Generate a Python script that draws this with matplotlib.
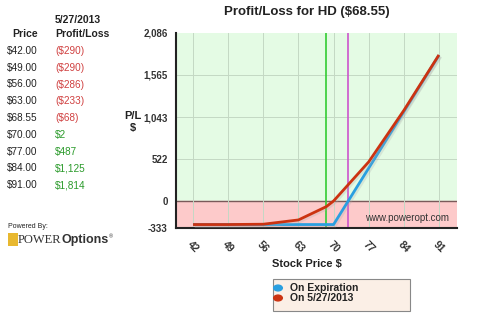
import matplotlib.pyplot as plt
import matplotlib.patheffects as pe
from matplotlib.patches import Rectangle

plt.rcParams['font.family'] = ['Liberation Sans', 'DejaVu Sans']

# tabela de precos / lucro na data
table_prices = ['$42.00', '$49.00', '$56.00', '$63.00', '$68.55', '$70.00', '$77.00', '$84.00', '$91.00']
table_pl = ['($290)', '($290)', '($286)', '($233)', '($68)', '$2', '$487', '$1,125', '$1,814']

# curvas do grafico
prices = [42, 49, 56, 63, 68.55, 70, 77, 84, 91]
pl_date = [-290, -290, -286, -233, -68, 2, 487, 1125, 1814]
exp_prices = [42, 49, 56, 63, 70, 77, 84, 91]
pl_exp = [-290, -290, -290, -290, -290, 410, 1110, 1810]

current_price = 68.55
breakeven = 72.9

x_ticks = [42, 49, 56, 63, 70, 77, 84, 91]
y_ticks = [-333, 0, 522, 1043, 1565, 2086]
y_labels = ['-333', '0', '522', '1,043', '1,565', '2,086']

fig = plt.figure(figsize=(4.8, 3.22), dpi=100)
fig.patch.set_facecolor('white')

# tabela do lado esquerdo
fig.text(12 / 480, 1 - 34 / 322, 'Price', fontsize=7.5, fontweight='bold', va='center', color='#222222')
fig.text(55 / 480, 1 - 20 / 322, '5/27/2013', fontsize=7.5, fontweight='bold', va='center', color='#222222')
fig.text(55 / 480, 1 - 34 / 322, 'Profit/Loss', fontsize=7.5, fontweight='bold', va='center', color='#222222')
for i, (p, v) in enumerate(zip(table_prices, table_pl)):
    y = 1 - (51 + i * 16.75) / 322
    fig.text(7 / 480, y, p, fontsize=7.2, va='center', color='#222222')
    col = '#d04040' if v.startswith('(') else '#2a9a2a'
    fig.text(55 / 480, y, v, fontsize=7.2, va='center', color=col)

# logo
fig.text(8 / 480, 1 - 226 / 322, 'Powered By:', fontsize=5, va='center', color='#222222')
fig.patches.append(Rectangle((8 / 480, 1 - 246 / 322), 10 / 480, 13 / 322, transform=fig.transFigure,
                             facecolor='#e8b830', edgecolor='none'))
t_power = fig.text(18 / 480, 1 - 240 / 322, 'POWER', fontsize=9, family='Liberation Serif', va='center',
                   color='#333333')
r = fig.canvas.get_renderer()
x_end = fig.transFigure.inverted().transform((t_power.get_window_extent(r).x1, 0))[0]
t_opt = fig.text(x_end, 1 - 240 / 322, 'Options', fontsize=9, fontweight='bold', va='center',
                 color='#333333', fontstretch='condensed')
x_end = fig.transFigure.inverted().transform((t_opt.get_window_extent(r).x1, 0))[0]
fig.text(x_end, 1 - 237 / 322, '®', fontsize=4, va='center', color='#333333')

ax = fig.add_axes([176 / 480, 1 - 228 / 322, 281 / 480, 195 / 322])
ax.set_xlim(38.6, 94.6)
ax.set_ylim(-333, 2086)

# fundo verde (lucro) e vermelho (prejuizo)
ax.axhspan(0, 2086, color='#e4fbe4', zorder=0)
ax.axhspan(-333, 0, color='#fdcaca', zorder=0)
ax.axhline(0, color='#7a5a5a', lw=1, zorder=1)

for x in x_ticks:
    ax.axvline(x, color='#c4d8c4', lw=0.7, zorder=1)
for y in [522, 1043, 1565]:
    ax.axhline(y, color='#c4d8c4', lw=0.7, zorder=1)

ax.axvline(current_price, color='#33cc33', lw=1.2, zorder=2)
ax.axvline(breakeven, color='#cc55cc', lw=1.2, zorder=2)

shadow = [pe.SimpleLineShadow(offset=(1.2, -1.2), shadow_color='#aaaaaa', alpha=0.25), pe.Normal()]
ax.plot(exp_prices, pl_exp, color='#2a9fe0', lw=2, zorder=3, path_effects=shadow, solid_capstyle='butt')
ax.plot(prices, pl_date, color='#cc3311', lw=2, zorder=4, path_effects=shadow, solid_capstyle='butt')

ax.text(93, -215, 'www.poweropt.com', fontsize=7, ha='right', va='center', color='#333333', zorder=5)

ax.set_xticks(x_ticks)
ax.set_xticklabels([str(x) for x in x_ticks], rotation=-45, ha='center', fontsize=7.5, fontweight='bold',
                   color='#333333')
ax.set_yticks(y_ticks)
ax.set_yticklabels(y_labels, fontsize=7, fontweight='bold', color='#333333')
ax.tick_params(axis='y', length=0, pad=6)
ax.tick_params(axis='x', length=0, pad=8)

for s in ['top', 'right']:
    ax.spines[s].set_visible(False)
ax.spines['left'].set_linewidth(1.5)
ax.spines['bottom'].set_linewidth(1.5)
ax.spines['left'].set_color('#222222')
ax.spines['bottom'].set_color('#222222')

fig.text(307 / 480, 1 - 12 / 322, 'Profit/Loss for HD ($68.55)', fontsize=9.5, fontweight='bold',
         ha='center', va='center', color='#222222')
fig.text(133 / 480, 1 - 122 / 322, 'P/L\n$', fontsize=8, fontweight='bold', ha='center', va='center',
         color='#222222', linespacing=1.15)
fig.text(307 / 480, 1 - 264 / 322, 'Stock Price $', fontsize=8, fontweight='bold', ha='center',
         va='center', color='#222222')

# legenda
fig.patches.append(Rectangle((273 / 480, 1 - 311 / 322), 137 / 480, 32 / 322, transform=fig.transFigure,
                             facecolor='#fbefe6', edgecolor='#888888', lw=0.8))
fig.patches.append(plt.Circle((278 / 480, 1 - 288 / 322), 0.009, transform=fig.transFigure, color='#2a9fe0'))
fig.patches.append(plt.Circle((278 / 480, 1 - 298 / 322), 0.009, transform=fig.transFigure, color='#cc3311'))
fig.text(290 / 480, 1 - 288 / 322, 'On Expiration', fontsize=7.5, fontweight='bold', va='center', color='#222222')
fig.text(290 / 480, 1 - 298 / 322, 'On 5/27/2013', fontsize=7.5, fontweight='bold', va='center', color='#222222')

fig.savefig('out.png', dpi=100)
